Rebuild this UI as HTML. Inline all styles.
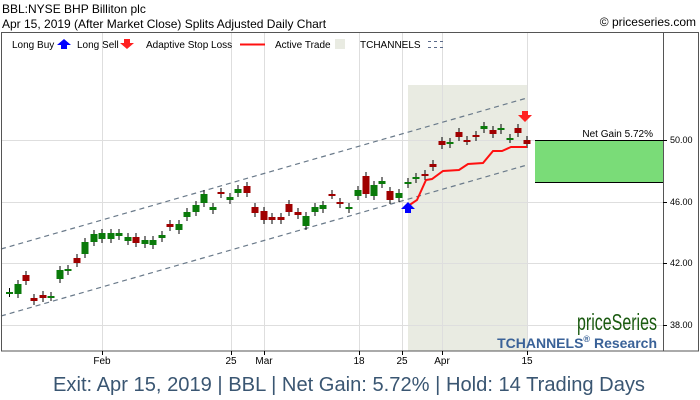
<!DOCTYPE html>
<html><head><meta charset="utf-8"><style>
body{margin:0;background:#fff;}
svg{display:block;font-family:"Liberation Sans",sans-serif;}
</style></head><body>
<svg width="700" height="400" xmlns="http://www.w3.org/2000/svg">
<rect width="700" height="400" fill="#fff"/>
<text x="2" y="13" font-size="12" fill="#000">BBL:NYSE BHP Billiton plc</text>
<text x="2" y="28" font-size="12" fill="#000">Apr 15, 2019 (After Market Close)  Splits Adjusted Daily Chart</text>
<text x="696" y="26" font-size="12" fill="#000" text-anchor="end">© priceseries.com</text>
<rect x="408" y="85" width="119" height="266" fill="#e9ebe2"/>
<g stroke="#dedede" stroke-width="1">
<line x1="1" y1="140.5" x2="663" y2="140.5"/><line x1="1" y1="202.5" x2="663" y2="202.5"/>
<line x1="1" y1="263.5" x2="663" y2="263.5"/><line x1="1" y1="325.5" x2="663" y2="325.5"/>
<line x1="102.5" y1="32" x2="102.5" y2="351"/><line x1="231.5" y1="32" x2="231.5" y2="351"/>
<line x1="264.5" y1="32" x2="264.5" y2="351"/><line x1="359.5" y1="32" x2="359.5" y2="351"/>
<line x1="402.5" y1="32" x2="402.5" y2="351"/><line x1="442.5" y1="32" x2="442.5" y2="351"/>
<line x1="527.5" y1="32" x2="527.5" y2="351"/>
</g>
<g stroke="#6a7a8a" stroke-width="1.2" stroke-dasharray="5,4" fill="none">
<line x1="1" y1="249" x2="527" y2="98"/>
<line x1="1" y1="316" x2="527" y2="165"/>
</g>
<g id="c"></g>
<polyline fill="none" stroke="#ff1010" stroke-width="2" points="408,206 417,200 426,180 432,179 443,171 459,170 468,164 483,163 493,151 502,151 511,147 527,147"/>
<polygon points="408,202 401,209 405,209 405,213 411,213 411,209 415,209" fill="#0000ff"/>
<polygon points="525,122 518,115 522,115 522,111 528,111 528,115 532,115" fill="#ff2020"/>
<rect x="535" y="140" width="128" height="42" fill="#7adc78"/>
<line x1="535" y1="140.5" x2="663" y2="140.5" stroke="#000"/>
<line x1="535" y1="182.5" x2="663" y2="182.5" stroke="#000"/>
<text x="653" y="137" font-size="10" text-anchor="end" fill="#000">Net Gain 5.72%</text>
<rect x="1.5" y="32.5" width="697" height="318.5" fill="none" stroke="#555"/>
<line x1="663.5" y1="32" x2="663.5" y2="351" stroke="#555"/>
<g font-size="9" fill="#000">
<line x1="663" y1="140.5" x2="667" y2="140.5" stroke="#000"/><text x="670" y="143">50.00</text>
<line x1="663" y1="202.5" x2="667" y2="202.5" stroke="#000"/><text x="670" y="205">46.00</text>
<line x1="663" y1="263.5" x2="667" y2="263.5" stroke="#000"/><text x="670" y="266">42.00</text>
<line x1="663" y1="325.5" x2="667" y2="325.5" stroke="#000"/><text x="670" y="328">38.00</text>
</g>
<g stroke="#000"><line x1="102.5" y1="351" x2="102.5" y2="355"/><line x1="231.5" y1="351" x2="231.5" y2="355"/><line x1="264.5" y1="351" x2="264.5" y2="355"/><line x1="359.5" y1="351" x2="359.5" y2="355"/><line x1="402.5" y1="351" x2="402.5" y2="355"/><line x1="442.5" y1="351" x2="442.5" y2="355"/><line x1="527.5" y1="351" x2="527.5" y2="355"/></g>
<g font-size="10" fill="#000" text-anchor="middle">
<text x="102" y="364">Feb</text><text x="231" y="364">25</text><text x="264" y="364">Mar</text><text x="359" y="364">18</text><text x="402" y="364">25</text><text x="442" y="364">Apr</text><text x="527" y="364">15</text>
</g>
<g font-size="10" fill="#000">
<text x="12" y="48">Long Buy</text>
<polygon points="64,39 57,45 61,45 61,49 67,49 67,45 71,45" fill="#0000ff"/>
<text x="77" y="48">Long Sell</text>
<polygon points="127,49 120,43 124,43 124,39 130,39 130,43 134,43" fill="#ff2020"/>
<text x="146" y="48">Adaptive Stop Loss</text>
<line x1="240" y1="44.5" x2="265" y2="44.5" stroke="#ff1010" stroke-width="2"/>
<text x="275" y="48">Active Trade</text>
<rect x="335" y="39" width="10" height="10" fill="#e9ebe2"/>
<text x="360" y="48">TCHANNELS</text>
<line x1="428" y1="41.5" x2="446" y2="41.5" stroke="#5a6a8a" stroke-dasharray="3,3"/>
<line x1="428" y1="47.5" x2="446" y2="47.5" stroke="#5a6a8a" stroke-dasharray="3,3"/>
</g>
<text x="657" y="330" font-size="23" fill="#1a5a10" text-anchor="end" font-family="Liberation Sans Narrow,Liberation Sans,sans-serif" textLength="80" lengthAdjust="spacingAndGlyphs">priceSeries</text>
<text x="657" y="348" font-size="14" font-weight="bold" fill="#3a6298" text-anchor="end">TCHANNELS<tspan font-size="9" dy="-6">®</tspan><tspan dy="6"> Research</tspan></text>
<text x="349" y="391" font-size="20" fill="#3a5672" text-anchor="middle" textLength="592" lengthAdjust="spacingAndGlyphs">Exit: Apr 15, 2019 | BBL | Net Gain: 5.72% | Hold: 14 Trading Days</text>
</svg>
<script>
var d=[[9.5,292,293,'g'],[18,284,294,'g'],[26,275,281,'r'],[34,298,301,'r'],[43,295,298,'r'],[51,296,297,'g'],[60,270,279,'g'],[68,269,271,'g'],[77,258,263,'r'],[85,242,254,'g'],[94,234,242,'g'],[102,233,239,'g'],[111,233,239,'g'],[119,233,236,'g'],[128,237,241,'g'],[136,237,243,'r'],[145,240,244,'g'],[153,240,245,'g'],[162,235,238,'g'],[170,224,227,'r'],[179,224,230,'g'],[187,212,217,'g'],[196,205,212,'g'],[204,194,203,'g'],[213,207,210,'g'],[221,192,194,'r'],[230,197,200,'g'],[238,189,193,'g'],[247,186,193,'r'],[255,207,213,'r'],[264,211,220,'r'],[272,217,220,'r'],[281,217,220,'r'],[289,204,212,'r'],[298,212,215,'r'],[306,216,226,'g'],[315,207,212,'g'],[323,205,209,'g'],[332,194,195,'r'],[340,202,204,'r'],[349,207,209,'g'],[358,190,196,'g'],[366,176,194,'r'],[374,185,196,'g'],[382,181,184,'g'],[390,191,200,'r'],[399,193,198,'g'],[408,182,184,'g'],[416,177,179,'g'],[425,174,176,'r'],[433,164,167,'r'],[442,141,145,'r'],[450,142,144,'g'],[459,132,137,'r'],[467,140,141,'r'],[476,135,137,'r'],[484,126,129,'g'],[493,130,134,'r'],[501,128,130,'g'],[510,138,139,'g'],[518,128,133,'r'],[527,140,144,'r']];
var s='';d.forEach(function(c){var col=c[3]=='g'?'#0a7a0a':'#a00000';s+='<line x1="'+c[0]+'" y1="'+(c[1]-4)+'" x2="'+c[0]+'" y2="'+(c[2]+4)+'" stroke="#000"/>';s+='<rect x="'+(c[0]-3.5)+'" y="'+c[1]+'" width="7" height="'+Math.max(2,c[2]-c[1])+'" fill="'+col+'"/>';});
document.getElementById('c').innerHTML=s;
</script>
</body></html>
